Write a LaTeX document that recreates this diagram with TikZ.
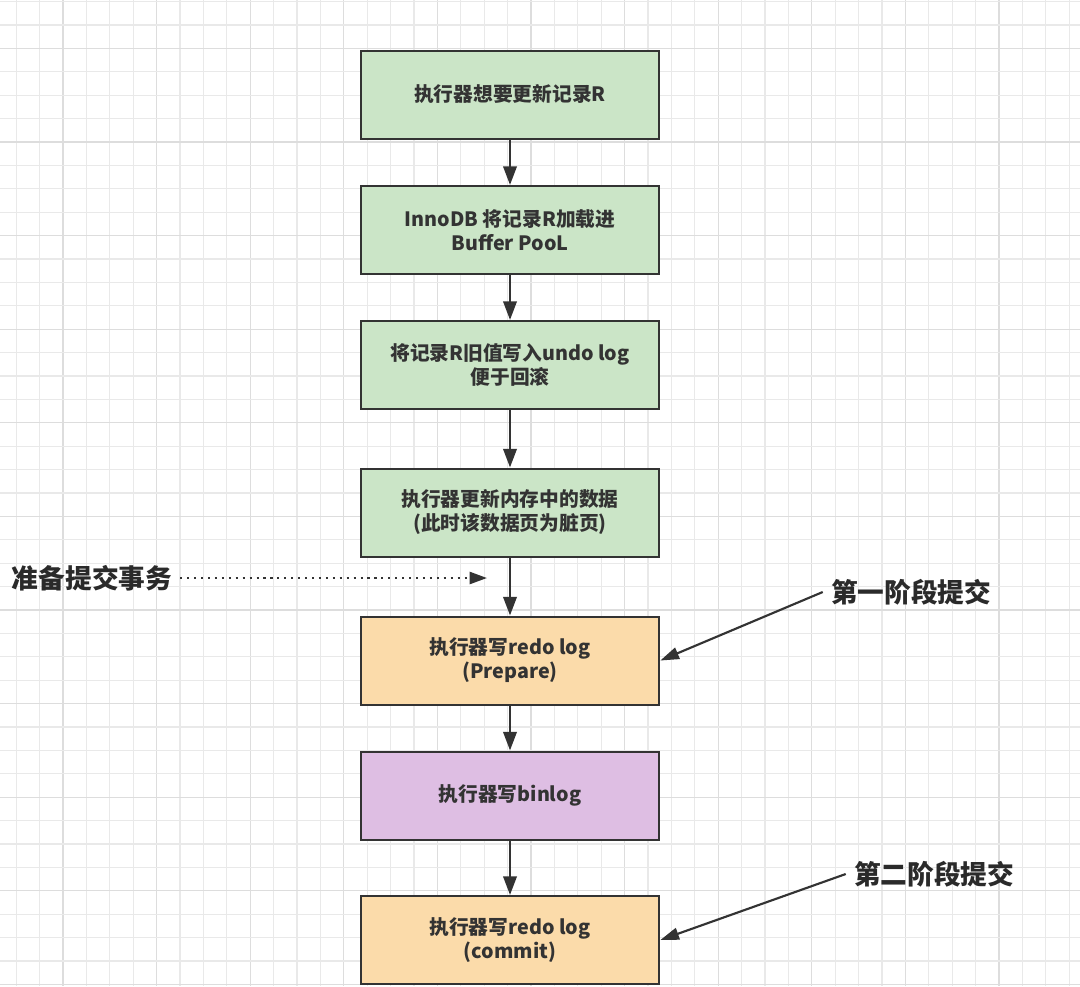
\documentclass[tikz,border=0pt]{standalone}
\usepackage{fontspec}
\setmainfont{Noto Sans CJK SC}
\usetikzlibrary{arrows.meta}
\definecolor{gridminor}{HTML}{E9E9E9}
\definecolor{gridmajor}{HTML}{DDDDDD}
\definecolor{boxgreen}{HTML}{CBE5C7}
\definecolor{boxorange}{HTML}{FBDBAA}
\definecolor{boxpurple}{HTML}{DEBEE3}
\definecolor{ink}{HTML}{333333}
\definecolor{labelink}{HTML}{2A2A2A}
\tikzset{
  flowbox/.style={draw=ink, line width=1.5pt, minimum width=224pt, minimum height=66pt,
    align=center, text=ink, font=\fontsize{14.8pt}{18pt}\selectfont\bfseries, inner sep=2pt},
  flowarrow/.style={draw=ink, line width=2pt, -{Triangle[length=14pt,width=10pt]}},
  notearrow/.style={draw=ink, line width=1.6pt, -{Triangle[length=14pt,width=9pt]}},
  dotarrow/.style={draw=ink, line width=1.8pt, dash pattern=on 1.6pt off 3.6pt, -{Triangle[length=13pt,width=9pt]}},
  notelabel/.style={text=labelink, font=\fontsize{20pt}{24pt}\selectfont\bfseries, inner sep=6pt}
}
\begin{document}
\begin{tikzpicture}[x=0.75pt,y=-0.75pt]
\useasboundingbox (0,0) rectangle (1080,986);
\fill[white] (0,0) rectangle (1080,986);
% grid
\foreach \i in {0,...,45}{
  \pgfmathsetmacro{\gx}{16.2+23.4*\i}
  \pgfmathtruncatemacro{\m}{mod(\i+2,4)}
  \ifnum\m=0
    \draw[gridmajor, line width=1pt] (\gx,0) -- (\gx,986);
  \else
    \draw[gridminor, line width=0.8pt] (\gx,0) -- (\gx,986);
  \fi
}
\foreach \j in {0,...,42}{
  \pgfmathsetmacro{\gy}{1.6+23.4*\j}
  \pgfmathtruncatemacro{\m}{mod(\j+2,4)}
  \ifnum\m=0
    \draw[gridmajor, line width=1pt] (0,\gy) -- (1080,\gy);
  \else
    \draw[gridminor, line width=0.8pt] (0,\gy) -- (1080,\gy);
  \fi
}
% boxes
\node[flowbox, fill=boxgreen] (b1) at (510,94.5) {执行器想要更新记录R};
\node[flowbox, fill=boxgreen] (b2) at (510,230) {InnoDB 将记录R加载进\\Buffer PooL};
\node[flowbox, fill=boxgreen] (b3) at (510,365) {将记录R旧值写入undo log\\便于回滚};
\node[flowbox, fill=boxgreen] (b4) at (510,512.5) {执行器更新内存中的数据\\(此时该数据页为脏页)};
\node[flowbox, fill=boxorange] (b5) at (510,660.5) {执行器写redo log\\(Prepare)};
\node[flowbox, fill=boxpurple] (b6) at (510,795.5) {执行器写binlog};
\node[flowbox, fill=boxorange] (b7) at (510,940) {执行器写redo log\\(commit)};
% flow arrows
\draw[flowarrow] (b1) -- (b2);
\draw[flowarrow] (b2) -- (b3);
\draw[flowarrow] (b3) -- (b4);
\draw[flowarrow] (b4) -- (b5);
\draw[flowarrow] (b5) -- (b6);
\draw[flowarrow] (b6) -- (b7);
% side labels
\node[notelabel] (prep) at (92,578) {准备提交事务};
\coordinate (preptip) at (487,578);
\draw[dotarrow] (prep.east) -- (preptip);
\node[notelabel] (p1) at (911,592) {第一阶段提交};
\draw[notearrow] (p1.west) -- (b5.east);
\node[notelabel] (p2) at (934,874) {第二阶段提交};
\draw[notearrow] (p2.west) -- (b7.east);
\end{tikzpicture}
\end{document}
